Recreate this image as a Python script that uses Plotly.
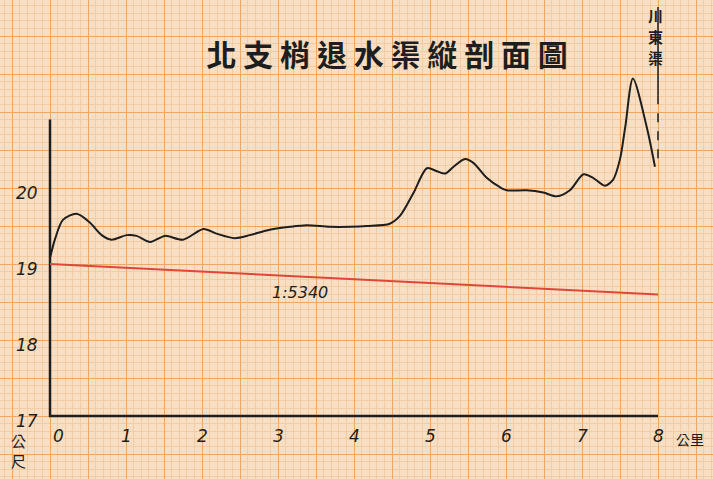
import plotly.graph_objects as go

# longitudinal profile of the drainage canal
dist_km = [0, 0.07, 0.17, 0.35, 0.53, 0.68, 0.81, 1.01, 1.14, 1.32, 1.51, 1.75,
           2.02, 2.19, 2.43, 2.63, 2.89, 3.16, 3.38, 3.68, 3.95, 4.17, 4.47, 4.61,
           4.78, 4.96, 5.09, 5.2, 5.31, 5.46, 5.57, 5.75, 5.92, 6.01, 6.27, 6.49,
           6.67, 6.84, 7.02, 7.15, 7.30, 7.41, 7.5, 7.57, 7.67, 7.85, 7.96]
ground_m = [19.08, 19.34, 19.58, 19.66, 19.54, 19.38, 19.32, 19.38, 19.37, 19.29,
            19.37, 19.32, 19.46, 19.40, 19.34, 19.38, 19.45, 19.49, 19.51, 19.49,
            19.49, 19.50, 19.53, 19.64, 19.93, 20.26, 20.22, 20.19, 20.28, 20.38,
            20.33, 20.13, 20.01, 19.97, 19.97, 19.94, 19.89, 19.97, 20.18, 20.13,
            20.03, 20.11, 20.38, 20.81, 21.44, 20.81, 20.28]

grade_x = [0, 8]
grade_y = [19.0, 18.6]
grade_label = "1:5340"

x_ticks = [0, 1, 2, 3, 4, 5, 6, 7, 8]
y_ticks = [17, 18, 19, 20]

title = "北 支 梢 退 水 渠 縦 剖 面 圖"
canal_name = ["川", "東", "渠"]

paper = "#f8dec2"
major = "#e9a86a"
minor = "#f3cca4"
ink = "#1e1e1e"
hand = dict(family="DejaVu Sans", size=17, color=ink, style="italic")
cjk = "Noto Sans CJK TC"

fig = go.Figure()

# axes drawn as ink lines on the paper
fig.add_trace(go.Scatter(x=[0, 0, 8], y=[20.9, 17, 17], mode="lines",
                         line=dict(color=ink, width=2.5), hoverinfo="skip"))
# design grade
fig.add_trace(go.Scatter(x=grade_x, y=grade_y, mode="lines",
                         line=dict(color="#e0463a", width=2), hoverinfo="skip"))
# ground profile
fig.add_trace(go.Scatter(x=dist_km, y=ground_m, mode="lines",
                         line=dict(color=ink, width=2, shape="spline", smoothing=0.8),
                         hoverinfo="skip"))
# canal crossing at 8 km
fig.add_trace(go.Scatter(x=[8, 8], y=[22.38, 21.22], mode="lines",
                         line=dict(color=ink, width=1.5), hoverinfo="skip"))
fig.add_trace(go.Scatter(x=[8, 8], y=[21.22, 20.28], mode="lines",
                         line=dict(color=ink, width=1.5, dash="dash"), hoverinfo="skip"))

for t in x_ticks:
    fig.add_annotation(x=t, y=17, text=str(t), showarrow=False, yanchor="top",
                       yshift=-8, xshift=8 if t == 0 else 0, font=hand)
fig.add_annotation(x=8, y=17, text="公里", showarrow=False, yanchor="top",
                   xanchor="left", yshift=-11, xshift=16,
                   font=dict(family=cjk, size=14, color=ink))
for t in y_ticks:
    fig.add_annotation(x=0, y=t, text=str(t), showarrow=False, xanchor="right",
                       xshift=-10, yshift=-5, font=hand)
fig.add_annotation(x=0, y=17, text="公<br>尺", showarrow=False, xanchor="right",
                   yanchor="top", xshift=-22, yshift=-12,
                   font=dict(family=cjk, size=15, color=ink))
fig.add_annotation(x=3.29, y=18.62, text=grade_label, showarrow=False,
                   font=dict(family="DejaVu Sans", size=16, color=ink, style="italic"))
for i, ch in enumerate(canal_name):
    fig.add_annotation(x=8, y=22.38, text=ch, showarrow=False, yanchor="top",
                       xshift=-3, yshift=4 - i * 21,
                       font=dict(family=cjk, size=15, color=ink, weight="bold"))

fig.update_layout(
    width=713, height=479,
    margin=dict(l=0, r=0, t=0, b=0),
    paper_bgcolor=paper, plot_bgcolor=paper,
    showlegend=False,
    title=dict(text=title, x=0.543, y=0.885, xanchor="center", yanchor="middle",
               font=dict(family=cjk, size=30, color=ink, weight="bold")),
)
grid = dict(showgrid=True, gridcolor=major, gridwidth=1.4, dtick=0.5,
            zeroline=False, showticklabels=False, ticks="",
            minor=dict(dtick=0.1, showgrid=True, gridcolor=minor, gridwidth=0.7))
fig.update_xaxes(range=[-50 / 76, 663 / 76], tick0=0, **grid)
fig.update_yaxes(range=[17 - 63 / 76, 17 + 416 / 76], tick0=17, **grid)

# drop the page's default body margin so the sheet fills the window
fig.write_html("out.html", config=dict(displayModeBar=False),
               post_script="document.body.style.margin='0';")
